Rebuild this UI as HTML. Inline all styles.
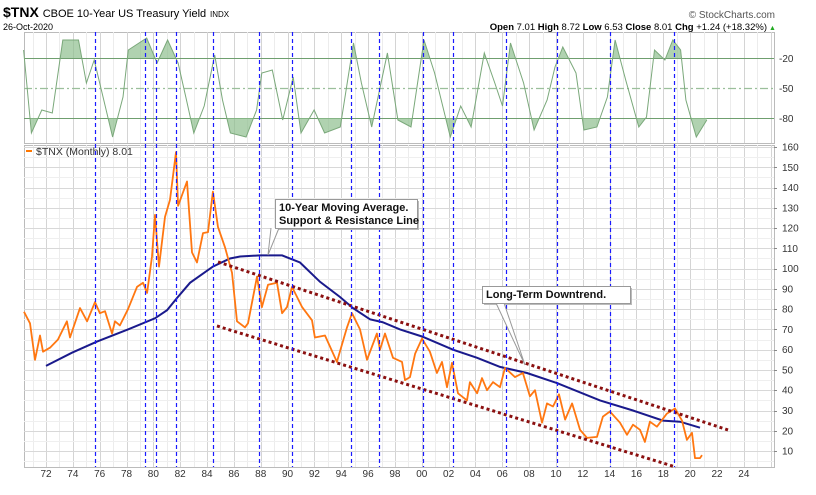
<!DOCTYPE html>
<html><head><meta charset="utf-8">
<style>
body{margin:0;background:#fff;font-family:"Liberation Sans",sans-serif;}
svg{display:block}
text{font-family:"Liberation Sans",sans-serif}
</style></head>
<body>
<svg id="c" width="816" height="495" viewBox="0 0 816 495">
<text x="3" y="17" font-size="14" font-weight="bold" fill="#000">$TNX <tspan font-weight="normal" font-size="11">CBOE 10-Year US Treasury Yield</tspan> <tspan font-weight="normal" font-size="8">INDX</tspan></text>
<text x="3" y="30" font-size="9" fill="#000">26-Oct-2020</text>
<text x="775" y="18" font-size="10" fill="#555" text-anchor="end">© StockCharts.com</text>
<text x="767" y="30" font-size="9.5" fill="#000" text-anchor="end"><tspan font-weight="bold">Open</tspan> 7.01 <tspan font-weight="bold">High</tspan> 8.72 <tspan font-weight="bold">Low</tspan> 6.53 <tspan font-weight="bold">Close</tspan> 8.01 <tspan font-weight="bold">Chg</tspan> +1.24 (+18.32%)</text>
<text x="769" y="30" font-size="7" fill="#2a2">▲</text>
<g id="grid"></g>
<g id="osc"></g>
<g id="main"></g>
<g id="ann"></g>
</svg>
<script>
const NS='http://www.w3.org/2000/svg';
const svg=document.getElementById('c');
function mk(parent,tag,attrs){const e=document.createElementNS(NS,tag);for(const k in attrs)e.setAttribute(k,attrs[k]);parent.appendChild(e);return e;}

// ---- data ----
const priceYears=[1970.36,1970.81,1971.18,1971.55,1971.78,1972.30,1972.89,1973.56,1973.79,1974.53,1975.06,1975.65,1976.02,1976.40,1976.92,1977.14,1977.51,1978.11,1978.78,1979.23,1979.53,1979.90,1980.12,1980.42,1980.87,1981.24,1981.69,1981.84,1982.51,1982.88,1983.25,1983.70,1984.07,1984.44,1984.82,1985.34,1985.86,1986.23,1986.83,1987.05,1987.72,1988.09,1988.54,1989.21,1989.59,1989.96,1990.33,1991.08,1991.82,1992.04,1992.79,1993.68,1994.43,1994.80,1995.40,1995.92,1996.66,1996.89,1997.26,1997.86,1998.53,1998.75,1999.12,1999.50,2000.02,2000.61,2001.13,2001.51,2001.88,2002.25,2002.70,2003.37,2003.59,2004.12,2004.49,2004.86,2005.31,2005.83,2006.20,2006.95,2007.54,2008.06,2008.44,2008.96,2009.33,2009.78,2010.23,2010.68,2011.20,2011.79,2012.31,2013.06,2013.50,2014.02,2014.77,2015.29,2015.74,2016.26,2016.63,2017.00,2017.52,2018.27,2018.87,2019.39,2019.76,2020.14,2020.36,2020.73,2020.88];
const priceValues=[78.7,73,55,67,59,61,65,74,66,80.5,74,83.5,78,79,68,74,72,80,91,93,88,106,126.5,101,125.5,134,157.5,131,143,108,103,117.5,118,138,120.5,110.5,98,74,71,73,96,81,92,93,78,81,91,81,74.5,66,67,54,71,78,70,55,68,60,68,56,54,45,46.5,58,65.5,59,48.5,54,41.5,53.5,38.5,35,44,38.5,46,40,44,41.5,51,46.5,48.5,37,40,24,33.5,32,38,25.5,33.5,20.5,16.5,17,27,29.5,24,18,23,20.5,14.5,24.5,22,28.5,31,25,15.5,19,6.5,6.5,8];
const maYears=[1972.0,1973.94,1975.80,1978.11,1980.12,1981.02,1981.76,1982.73,1984.44,1985.71,1986.46,1987.95,1989.59,1990.93,1992.42,1993.91,1994.88,1996.14,1997.11,1998.38,2000.02,2002.33,2004.12,2005.83,2007.84,2010.08,2013.28,2015.74,2017.97,2019.24,2020.73];
const maValues=[52,58.5,64,70,75.5,79.5,85.5,93,101,105,106,106.5,106.5,103,93.5,86,80.5,75,73.5,70,66.5,60,56,51.5,48.5,43.5,35,30,25,24.5,21.5];
const oscYears=[1970.33,1970.91,1971.69,1972.47,1973.25,1974.42,1975.01,1975.59,1976.96,1977.74,1978.13,1979.50,1980.28,1981.06,1981.84,1982.42,1983.01,1983.79,1984.57,1985.15,1985.74,1986.91,1987.69,1988.08,1988.86,1989.64,1990.42,1991.00,1991.98,1992.76,1993.93,1994.91,1995.50,1996.27,1997.44,1998.22,1999.20,2000.17,2000.96,2002.13,2002.90,2003.68,2004.66,2005.44,2006.02,2006.61,2007.59,2008.37,2009.34,2009.93,2010.51,2011.49,2012.08,2013.05,2013.83,2014.41,2015.20,2016.17,2016.75,2017.34,2018.12,2018.71,2019.29,2019.68,2020.46,2021.24];
const oscValues=[-12,-95,-72,-75,-2,-2,-45,-22,-99,-59,-12,0,-25,-2,-25,-59,-95,-68,-17,-62,-95,-99,-72,-35,-32,-82,-39,-95,-72,-95,-89,-5,-45,-89,-15,-82,-89,-2,-35,-99,-68,-89,-15,-45,-68,-5,-45,-92,-62,-29,-9,-35,-92,-89,-59,-2,-42,-89,-79,-12,-22,-2,-12,-62,-99,-82];
const markerYears=[1975.65,1979.35,1980.2,1981.65,1984.47,1987.9,1990.35,1994.75,1996.85,2000.1,2002.35,2006.25,2010.1,2014.05,2018.8];
const trendUpper=[[1984.82,103.3],[2022.82,20.4]];
const trendLower=[[1984.74,71.7],[2018.94,2.1]];
const yTicks=[160,150,140,130,120,110,100,90,80,70,60,50,40,30,20,10];
const xTickYears=[1972,1974,1976,1978,1980,1982,1984,1986,1988,1990,1992,1994,1996,1998,2000,2002,2004,2006,2008,2010,2012,2014,2016,2018,2020,2022,2024];
const oscLevels=[-20,-50,-80];

// ---- scales ----
const X0=24,X1=774, MT=145, MB=467, OT=32, OB=143;
function xs(yr){return 46+(yr-1972)*13.42;}
function ys(v){return 147+(160-v)*2.027;}
function yo(v){return 38-v;}
function crisp(x){return Math.round(x)+0.5;}

const grid=document.getElementById('grid');
let r=mk(grid,'rect',{x:X0+0.5,y:OT+0.5,width:X1-X0,height:OB-OT,fill:'#fff',stroke:'#bbb'});

r=mk(grid,'rect',{x:X0+0.5,y:MT+0.5,width:X1-X0,height:MB-MT,fill:'#fff',stroke:'#bbb'});

for(let yr=1971;yr<=2026;yr++){const x=crisp(xs(yr));if(x<X0||x>X1)continue;
 const c=(yr%2===0)?'#d4d4d4':'#ececec';
 mk(grid,'line',{x1:x,x2:x,y1:OT,y2:OB,stroke:c});
 mk(grid,'line',{x1:x,x2:x,y1:MT,y2:MB,stroke:c});}
for(let v=0;v<=160;v+=5){const y=crisp(ys(v));if(y<MT||y>MB)continue;mk(grid,'line',{x1:X0,x2:X1,y1:y,y2:y,stroke:v%10===0?'#d8d8d8':'#efefef'});}
yTicks.forEach(v=>{const y=ys(v);
 mk(grid,'line',{x1:X1,x2:X1+3,y1:crisp(y),y2:crisp(y),stroke:'#888'});
 const t=mk(grid,'text',{x:X1+8,y:y+3.5,'font-size':10,fill:'#333'});t.textContent=v;
 });
xTickYears.forEach(yr=>{const x=xs(yr);
 const t=mk(grid,'text',{x:x,y:477,'font-size':10,fill:'#333','text-anchor':'middle'});t.textContent=String(yr).slice(2);
 });
oscLevels.forEach(v=>{const y=crisp(yo(v));
 mk(grid,'line',{x1:X0,x2:X1,y1:y,y2:y,stroke:v===-50?'#9bbf9b':'#6f9f6f','stroke-width':v===-50?1.2:1,'stroke-dasharray':v===-50?'8 3 2 3':''});
 const t=mk(grid,'text',{x:X1+5,y:y+3.5,'font-size':10,fill:'#333'});t.textContent=v;
 });

// ---- oscillator ----
const osc=document.getElementById('osc');
const defs=mk(svg,'defs',{});
const cpA=mk(defs,'clipPath',{id:'above'});mk(cpA,'rect',{x:X0,y:OT,width:X1-X0,height:yo(-20)-OT});
const cpB=mk(defs,'clipPath',{id:'below'});mk(cpB,'rect',{x:X0,y:yo(-80),width:X1-X0,height:OB-yo(-80)});
const pts=oscYears.map((yr,i)=>[xs(yr),yo(oscValues[i])]);
const lineD='M'+pts.map(p=>p[0].toFixed(1)+','+p[1].toFixed(1)).join('L');
const first=pts[0][0],last=pts[pts.length-1][0];
let f=mk(osc,'path',{d:lineD+`L${last},${yo(-20)}L${first},${yo(-20)}Z`,fill:'#8fbf8f','fill-opacity':0.7,'clip-path':'url(#above)'});

f=mk(osc,'path',{d:lineD+`L${last},${yo(-80)}L${first},${yo(-80)}Z`,fill:'#8fbf8f','fill-opacity':0.7,'clip-path':'url(#below)'});

const ol=mk(osc,'path',{d:lineD,fill:'none',stroke:'#7aa87a','stroke-width':1});


// ---- main ----
const main=document.getElementById('main');
mk(main,'line',{x1:26,x2:32,y1:151,y2:151,stroke:'#ff7700','stroke-width':2});
const lt=mk(main,'text',{x:36,y:155,'font-size':10.5,fill:'#333'});lt.textContent='$TNX (Monthly) 8.01';

function poly(xsA,vsA){return 'M'+xsA.map((yr,i)=>xs(yr).toFixed(1)+','+ys(vsA[i]).toFixed(1)).join('L');}
const ma=mk(main,'path',{d:poly(maYears,maValues),fill:'none',stroke:'#1a1a8c','stroke-width':2});

const pr=mk(main,'path',{d:poly(priceYears,priceValues),fill:'none',stroke:'#ff7711','stroke-width':1.8,'stroke-linejoin':'round'});

[trendUpper,trendLower].forEach((t,i)=>{
 const l=mk(main,'line',{x1:xs(t[0][0]),y1:ys(t[0][1]),x2:xs(t[1][0]),y2:ys(t[1][1]),stroke:'#8b1010','stroke-width':3,'stroke-dasharray':'3 3'});
 });
markerYears.forEach(yr=>{const x=crisp(xs(yr));
 const l=mk(main,'line',{x1:x,x2:x,y1:OT,y2:MB,stroke:'#1a1aff','stroke-width':1.2,'stroke-dasharray':'4 3'});
 });

// ---- annotations ----
const ann=document.getElementById('ann');
function callout(x,y,w,h,px,py,ax,lines,name){
 const g=mk(ann,'g',{});
 mk(g,'rect',{x:x+2,y:y+2,width:w,height:h,fill:'#bbb'});
 mk(g,'path',{d:`M${ax-4},${y+h}L${px},${py}L${ax+4},${y+h}`,fill:'#fff',stroke:'#999'});
 mk(g,'rect',{x:x+0.5,y:y+0.5,width:w,height:h,fill:'#fff',stroke:'#999'});
 lines.forEach((s,i)=>{const t=mk(g,'text',{x:x+4,y:y+12+i*13,'font-size':11,'font-weight':'bold',fill:'#111'});t.textContent=s;});
}
callout(275,199,142,29,268,255,275,['10-Year Moving Average.','Support & Resistance Line'],'ma-callout');
callout(482,286,148,17,525,365,500,['Long-Term Downtrend.'],'downtrend-callout');
</script>
</body></html>
